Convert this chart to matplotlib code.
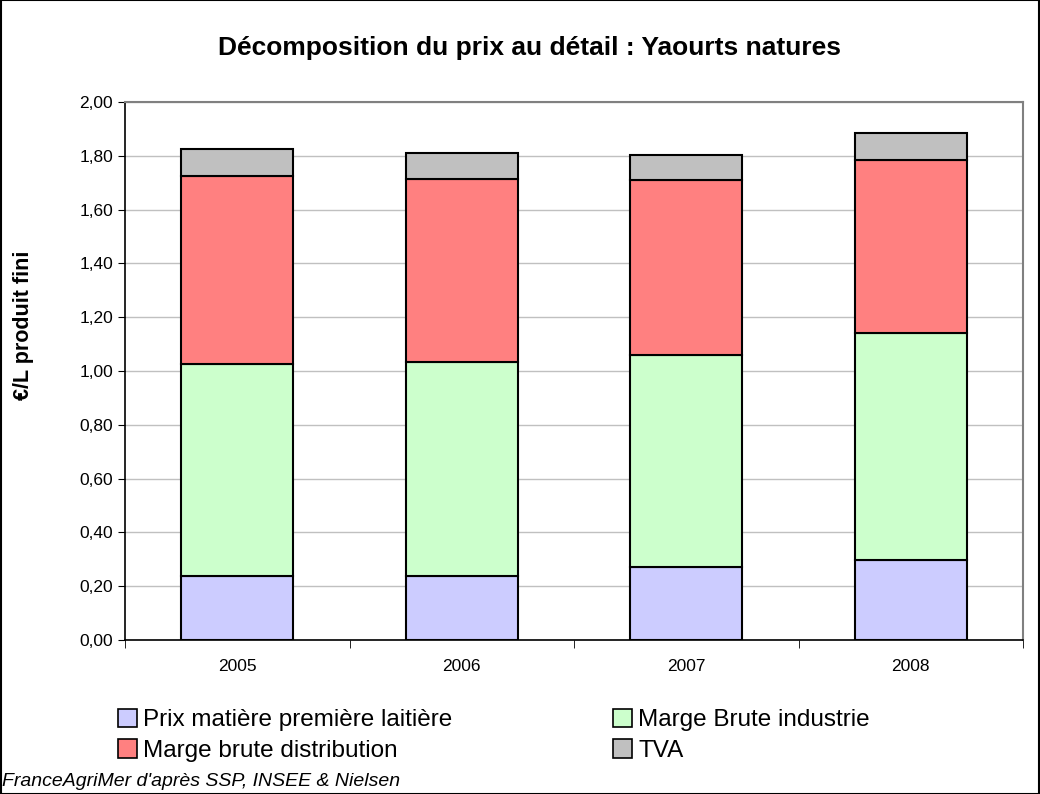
import numpy as np
import matplotlib.pyplot as plt
from matplotlib.patches import Patch, Rectangle

plt.rcParams['font.family'] = ['Liberation Sans', 'DejaVu Sans']

# ── Data ───────────────────────────────────
years       = ['2005', '2006', '2007', '2008']
prix_lait   = [0.237, 0.237, 0.270, 0.296]
marge_indus = [0.790, 0.798, 0.791, 0.846]
marge_distr = [0.699, 0.678, 0.650, 0.642]
tva         = [0.098, 0.099, 0.091, 0.100]

series_names = ['Prix matière première laitière', 'Marge Brute industrie',
                'Marge brute distribution', 'TVA']
colors       = ['#CCCCFF', '#CCFFCC', '#FF8080', '#C0C0C0']
y_ticks      = [0.0, 0.2, 0.4, 0.6, 0.8, 1.0, 1.2, 1.4, 1.6, 1.8, 2.0]

# ── Figure ─────────────────────────────────
fig = plt.figure(figsize=(10.4, 7.94), dpi=100)
ax  = fig.add_axes([125 / 1040, 154 / 794, 898 / 1040, 538 / 794])

x      = np.arange(len(years))
bottom = np.zeros(len(years))
for vals, name, col in zip([prix_lait, marge_indus, marge_distr, tva],
                           series_names, colors):
    ax.bar(x, vals, width=0.5, bottom=bottom, color=col,
           edgecolor='black', linewidth=1.5, label=name, zorder=3)
    bottom += np.array(vals)

# ── Axes ───────────────────────────────────
ax.set_xlim(-0.5, len(years) - 0.5)
ax.set_ylim(0, 2.0)
ax.set_yticks(y_ticks)
ax.set_yticklabels([f'{v:.2f}'.replace('.', ',') for v in y_ticks], fontsize=12.5)
ax.set_xticks(x)
ax.set_xticklabels(years, fontsize=12.5)
ax.tick_params(axis='x', which='major', length=0, pad=14)
ax.set_xticks(np.arange(-0.5, len(years)), minor=True)
ax.tick_params(axis='x', which='minor', length=6, direction='out', color='black')
ax.tick_params(axis='y', length=5, direction='out', color='black')
ax.grid(axis='y', color='#C0C0C0', linewidth=1, zorder=0)
ax.set_axisbelow(True)

for side in ['top', 'right']:
    ax.spines[side].set_color('#808080')
    ax.spines[side].set_linewidth(1.5)
for side in ['left', 'bottom']:
    ax.spines[side].set_color('black')
    ax.spines[side].set_linewidth(1.2)

# ── Texts ──────────────────────────────────
fig.text(530 / 1040, 1 - 48 / 794,
         'Décomposition du prix au détail : Yaourts natures',
         ha='center', va='center', fontsize=19, fontweight='bold')
fig.text(24 / 1040, 1 - 325 / 794, '€/L produit fini', rotation=90,
         ha='center', va='center', fontsize=15.5, fontweight='bold')
fig.text(2 / 1040, 1 - 782 / 794, "FranceAgriMer d'après SSP, INSEE & Nielsen",
         ha='left', va='center', fontsize=14, style='italic')

# ── Legend ─────────────────────────────────
order   = [0, 2, 1, 3]
handles = [Patch(facecolor=colors[i], edgecolor='black', linewidth=1.2)
           for i in order]
labels  = [series_names[i] for i in order]
fig.legend(handles, labels, ncol=2, frameon=False, fontsize=17.5,
           loc='upper left', bbox_to_anchor=(108 / 1040, 1 - 699 / 794),
           handlelength=0.8, handleheight=0.8, handletextpad=0.25,
           columnspacing=6.6, labelspacing=0.32, borderaxespad=0)

# outer frame
fig.patches.append(Rectangle((0.0005, 0.0005), 0.999, 0.999, transform=fig.transFigure,
                             fill=False, edgecolor='black', linewidth=1.5))

fig.savefig('out.png', dpi=100)
